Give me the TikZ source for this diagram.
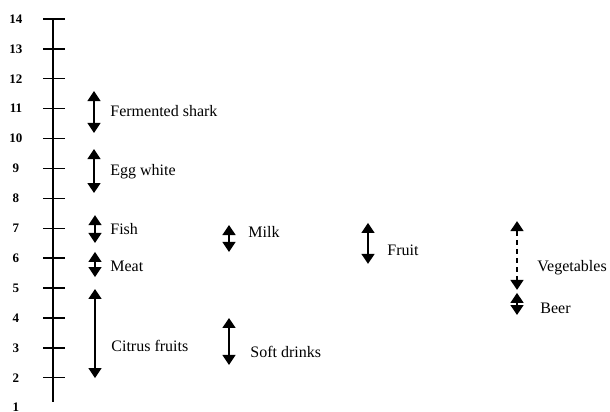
\documentclass[tikz,border=0pt]{standalone}
\usepackage{fontspec}
\setmainfont{Liberation Serif}
\usetikzlibrary{arrows.meta}

\begin{document}
\begin{tikzpicture}[x=0.5pt,y=14.95pt,
  phrange/.style={line width=0.7pt,{Triangle[width=6.5pt,length=5pt]}-{Triangle[width=6.5pt,length=5pt]}},
  food/.style={anchor=west,inner sep=0pt,font=\fontsize{8}{10}\selectfont}]

\useasboundingbox (0,0.856) rectangle (610,14.635);

%drawing the scale line
\coordinate (scale-top) at (53,14);
\coordinate (scale-bot) at (53,1.19);
\draw[line width=0.8pt] (scale-top) -- (scale-bot);

%drawing the ticks
\foreach \v in {2,...,14}
\draw[line width=0.7pt] (53,\v) +(-10,0) -- +(12,0);

%labeling the ticks
\foreach \v in {1,...,14}
\node[font=\fontsize{6.5}{8}\selectfont\bfseries] (num\v) at (16,\v) {\v};

%the ranges, drawn with two heads
\foreach \x/\hi/\lo/\name in {94/11.59/10.19/shark, 94/9.65/8.18/egg,
  95/7.44/6.51/fish, 95/6.21/5.37/meat, 95/4.97/1.99/citrus,
  229/7.11/6.21/milk, 229/4.0/2.43/soft, 368/7.18/5.81/fruit,
  517/4.84/4.10/beer}
{
\coordinate (\name-hi) at (\x,\hi);
\coordinate (\name-lo) at (\x,\lo);
\draw[phrange] (\name-hi) -- (\name-lo);
}

%vegetables has a broken line
\coordinate (veg-hi) at (517,7.24);
\coordinate (veg-lo) at (517,4.94);
\draw[phrange,dash pattern=on 2.5pt off 2pt] (veg-hi) -- (veg-lo);

%labels
\node[food] (shark) at (110,10.92) {Fermented shark};
\node[food] (egg) at (110,8.88) {Egg white};
\node[food] (fish) at (110,6.98) {Fish};
\node[food] (meat) at (110,5.74) {Meat};
\node[food] (citrus) at (111,3.06) {Citrus fruits};
\node[food] (milk) at (248,6.88) {Milk};
\node[food] (soft) at (250,2.86) {Soft drinks};
\node[food] (fruit) at (387,6.27) {Fruit};
\node[food] (veg) at (537,5.67) {Vegetables};
\node[food] (beer) at (540,4.33) {Beer};

\end{tikzpicture}
\end{document}
